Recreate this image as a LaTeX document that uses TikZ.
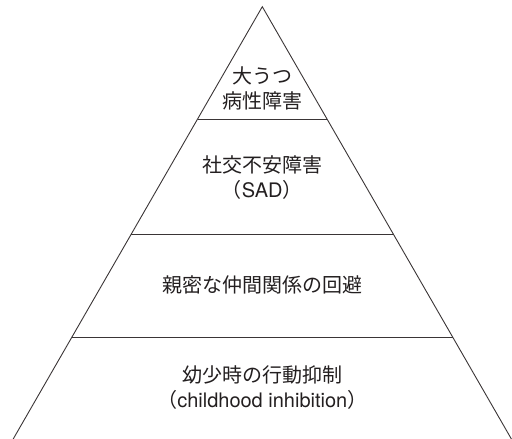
\documentclass[tikz,border=0pt]{standalone}
\usepackage{fontspec}
\setmainfont{TeX Gyre Heros}
\newfontfamily\jpfont{Noto Sans CJK JP}
\definecolor{inkline}{HTML}{3A3536}
\definecolor{inktext}{HTML}{231F20}
\tikzset{
  edge/.style={draw=inkline, line width=0.9pt},
  label/.style={align=center, text=inktext, inner sep=0pt,
    font=\fontsize{20}{25}\selectfont}
}
\begin{document}
\begin{tikzpicture}[x=1pt,y=1pt]
\useasboundingbox (0,0) rectangle (512,439);
\coordinate (apex) at (262.3,432.3);
\coordinate (bl) at (13.2,0);
\coordinate (br) at (511.4,0);
\coordinate (l1) at (197.7,320);
\coordinate (r1) at (326.9,320);
\coordinate (l2) at (131.2,204.5);
\coordinate (r2) at (393.4,204.5);
\coordinate (l3) at (72,101.7);
\coordinate (r3) at (452.6,101.7);
\draw[edge, line join=miter] (bl) -- (apex) -- (br);
\draw[edge] (l1) -- (r1);
\draw[edge] (l2) -- (r2);
\draw[edge] (l3) -- (r3);
\node[label] (t1) at (262.3,350.5) {\jpfont 大うつ\\\jpfont 病性障害};
\node[label] (t2) at (262.3,261.5) {\jpfont 社交不安障害\\{\jpfont （}SAD{\jpfont ）}};
\node[label] (t3) at (262.3,154) {\jpfont 親密な仲間関係の回避};
\node[label] (t4) at (262.3,51.5) {\jpfont 幼少時の行動抑制\\{\jpfont （}childhood inhibition{\jpfont ）}};
\end{tikzpicture}
\end{document}
